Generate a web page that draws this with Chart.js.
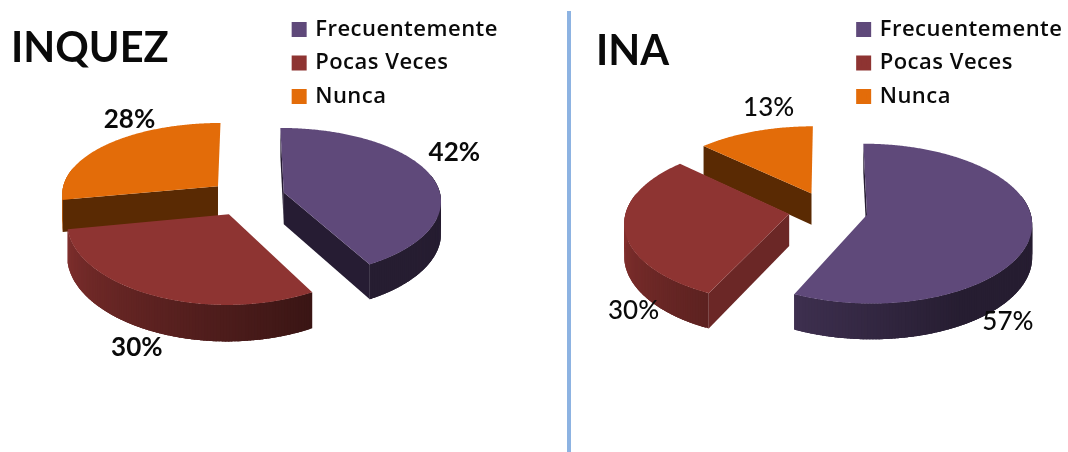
<!DOCTYPE html>
<html lang="es">
<head>
<meta charset="utf-8">
<title>INQUEZ / INA</title>
<script src="https://cdn.jsdelivr.net/npm/chart.js@4"></script>
<style>
html,body{margin:0;padding:0;background:#fff;width:1068px;height:452px;overflow:hidden}
#page{position:relative;width:1068px;height:452px;overflow:hidden;filter:blur(.45px)}
canvas{position:absolute;top:0}
#c1{left:0}
#c2{left:571px}
.title{position:absolute;font:700 41.5px Lato,sans-serif;color:#0a0a0a;line-height:1;white-space:nowrap}
#rule{position:absolute;left:567px;top:11px;width:4px;height:441px;background:#8DB3E2}
</style>
</head>
<body>
<div id="page">
  <canvas id="c1" width="566" height="452"></canvas>
  <canvas id="c2" width="510" height="452"></canvas>
  <div id="rule"></div>
  <div class="title" id="t1"></div>
  <div class="title" id="t2"></div>
</div>
<script>
const categories = ['Frecuentemente', 'Pocas Veces', 'Nunca'];
const inquezValues = [42, 30, 28];
const inaValues = [57, 30, 13];
const titleLeft = 'INQUEZ';
const titleRight = 'INA';

const topColors = ['#5F497A', '#8E3432', '#E36C09'];
const faceColors = ['#261C33', '#6B2726', '#5A2A03'];

function rgb(hex){return [1,3,5].map(i=>parseInt(hex.substr(i,2),16));}
function shade(hex,f){return 'rgb('+rgb(hex).map(v=>Math.round(v*f)).join(',')+')';}
function wallFactor(deg){return Math.max(.4,Math.min(.93,.4+(deg-150)*.5/110));}

const pie3d = {
  id:'pie3d',
  beforeLayout(chart){chart.ctx.letterSpacing=chart.options.plugins.pie3d.spacing;},
  beforeDraw(chart){chart.ctx.letterSpacing=chart.options.plugins.pie3d.spacing;},
  beforeDatasetDraw(chart,args,o){
    const ctx=chart.ctx, meta=chart.getDatasetMeta(0), ds=chart.data.datasets[0];
    const P=(X,Y)=>[o.cx+o.rx*X/(1-o.kx*Y), o.cy+o.ry*Y/(1-o.ky*Y)];
    const D=(Y)=>o.depth/(1-o.kd*Y);
    const slices=meta.data.map((arc,i)=>{
      const a0=arc.startAngle,a1=arc.endAngle,m=(a0+a1)/2;
      return {i,a0,a1,m,ox:o.explode[i]*Math.cos(m),oy:o.explode[i]*Math.sin(m)};
    }).sort((s,t)=>P(s.ox,s.oy)[1]-P(t.ox,t.oy)[1]);
    ctx.save();
    ctx.letterSpacing='0px';
    for(const s of slices){
      const col=ds.backgroundColor[s.i];
      const rim=a=>({X:s.ox+Math.cos(a),Y:s.oy+Math.sin(a)});
      const n=Math.ceil((s.a1-s.a0)/(Math.PI/180));
      const step=(s.a1-s.a0)/n;
      // outer wall, shaded by facing angle; each quad runs under the next one
      for(let k=0;k<n;k++){
        const b0=s.a0+step*k,b1=Math.min(s.a1,b0+step*2.5);
        if(Math.sin(b0+step/2)<-.25) continue;
        ctx.fillStyle=shade(col,wallFactor((b0+step/2+Math.PI/2)*180/Math.PI));
        ctx.beginPath();
        for(let j=0;j<=3;j++){
          const r=rim(b0+(b1-b0)*j/3),p=P(r.X,r.Y);
          j?ctx.lineTo(p[0],p[1]):ctx.moveTo(p[0],p[1]);
        }
        for(let j=3;j>=0;j--){
          const r=rim(b0+(b1-b0)*j/3),p=P(r.X,r.Y);
          ctx.lineTo(p[0],p[1]+D(r.Y));
        }
        ctx.closePath();ctx.fill();
      }
      // cut faces that look toward the viewer
      const apex=P(s.ox,s.oy),dA=D(s.oy);
      const face=a=>{
        const r=rim(a),p=P(r.X,r.Y);
        ctx.fillStyle=faceColors[s.i];
        ctx.beginPath();
        ctx.moveTo(apex[0],apex[1]);ctx.lineTo(p[0],p[1]);
        ctx.lineTo(p[0],p[1]+D(r.Y));ctx.lineTo(apex[0],apex[1]+dA);
        ctx.closePath();ctx.fill();
      };
      if(Math.cos(s.a0)<1e-6) face(s.a0);
      if(Math.cos(s.a1)>1e-6) face(s.a1);
      // top surface
      ctx.fillStyle=col;
      ctx.beginPath();ctx.moveTo(apex[0],apex[1]);
      for(let k=0;k<=n*2;k++){
        const r=rim(s.a0+(s.a1-s.a0)*k/(n*2)),p=P(r.X,r.Y);
        ctx.lineTo(p[0],p[1]);
      }
      ctx.closePath();ctx.fill();
    }
    // value labels
    ctx.font=o.labelFont;ctx.fillStyle='#0a0a0a';ctx.textAlign='center';ctx.textBaseline='middle';
    for(const s of slices){
      const p=P(s.ox+Math.cos(s.m),s.oy+Math.sin(s.m)),nu=o.nudge[s.i];
      ctx.fillText(ds.data[s.i]+'%',p[0]+nu[0],p[1]+nu[1]);
    }
    ctx.restore();
    return false;
  }
};

function makePie(id,values,opts,legendPad){
  return new Chart(document.getElementById(id),{
    type:'pie',
    data:{labels:categories,datasets:[{data:values,backgroundColor:topColors,borderWidth:0}]},
    options:{
      responsive:false,animation:false,
      layout:{padding:{top:legendPad.top,right:legendPad.right}},
      plugins:{
        tooltip:{enabled:false},
        legend:{position:'right',align:'start',
          labels:{boxWidth:10,boxHeight:10,padding:11.5,color:'#0a0a0a',
            font:{family:'"Open Sans"',size:22,weight:'600'},
            generateLabels:()=>categories.map((text,i)=>({text,index:i,datasetIndex:0,
              fillStyle:topColors[i],strokeStyle:topColors[i],lineWidth:5,hidden:false,fontColor:'#0a0a0a'}))}},
        pie3d:opts
      }
    },
    plugins:[pie3d]
  });
}

makePie('c1',inquezValues,{
  cx:246,cy:197,rx:157,ry:74,kx:.1,ky:.13,kd:.1,depth:32,spacing:'.5px',
  explode:[.25,.25,.235],
  labelFont:'700 26px Lato,sans-serif',
  nudge:[[24,-22],[-15,52],[22,-25]]
},{top:7,right:58});

makePie('c2',inaValues,{
  cx:827-571,cy:210.5,rx:163,ry:78,kx:.1,ky:.11,kd:.1,depth:32,spacing:'.5px',
  explode:[.25,.235,.245],
  labelFont:'500 26px Lato,sans-serif',
  nudge:[[-23.5,89],[9,82],[14,-24]]
},{top:7,right:8.5});

const t1=document.getElementById('t1');t1.textContent=titleLeft;t1.style.left='11px';t1.style.top='26px';
const t2=document.getElementById('t2');t2.textContent=titleRight;t2.style.left='596px';t2.style.top='29px';
</script>
</body>
</html>
